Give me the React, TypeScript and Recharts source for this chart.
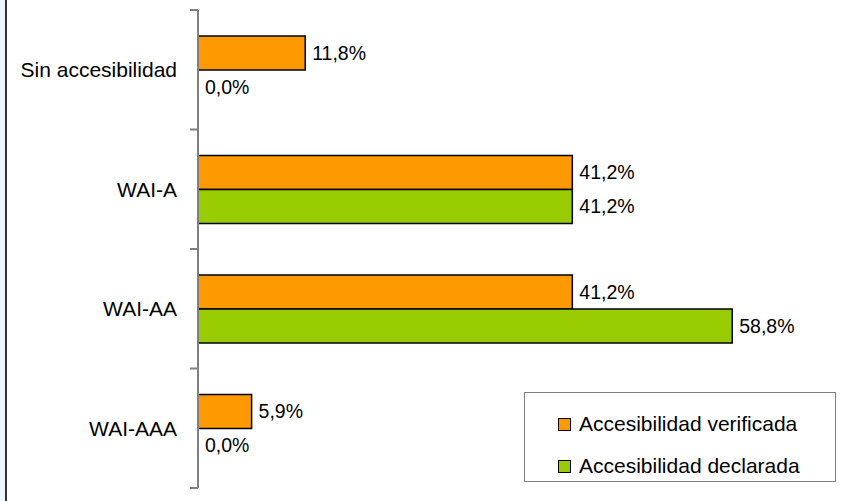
import React from "react";
import { BarChart, Bar, XAxis, YAxis, Legend, LabelList, Cell } from "recharts";

const categories = ["Sin accesibilidad", "WAI-A", "WAI-AA", "WAI-AAA"];
const verificada = [11.8, 41.2, 41.2, 5.9];
const declarada = [0, 41.2, 58.8, 0];
const seriesNames = ["Accesibilidad verificada", "Accesibilidad declarada"];
const seriesColors = ["#FF9900", "#99CC00"];

const data = categories.map((name, i) => ({
  name,
  verificada: verificada[i],
  declarada: declarada[i],
}));

const W = 842;
const H = 501;
const MARGIN = { top: 10, right: 8, bottom: 13, left: 0 };
const FONT = '"Liberation Sans", Arial, sans-serif';
const FS = 21;
const VFS = 19.5;
const band = (H - MARGIN.top - MARGIN.bottom) / categories.length;

const fmt = (v: any) => `${Number(v).toFixed(1).replace(".", ",")}%`;
const minSize = (v: any) => (Number(v) === 0 ? 0.01 : 0);

function CatTick(props: any) {
  const { x, y, payload, index } = props;
  return (
    <g>
      <line x1={x - 8} x2={x} y1={y - band / 2} y2={y - band / 2} stroke="#808080" strokeWidth={2} />
      {index === categories.length - 1 && (
        <line x1={x - 8} x2={x} y1={y + band / 2} y2={y + band / 2} stroke="#808080" strokeWidth={2} />
      )}
      <text x={x - 21} y={y} dy="0.35em" textAnchor="end" fill="#000" fontSize={FS} fontFamily={FONT}>
        {payload.value}
      </text>
    </g>
  );
}

function LegendBox() {
  return (
    <div
      style={{
        width: 312,
        height: 90,
        border: "1px solid #808080",
        background: "#fff",
        boxSizing: "border-box",
        fontFamily: FONT,
        fontSize: FS,
        color: "#000",
        paddingLeft: 33,
        paddingTop: 10,
        textAlign: "left",
      }}
    >
      {seriesNames.map((n, i) => (
        <div key={n} style={{ display: "flex", alignItems: "center", height: 42 }}>
          <span
            style={{
              display: "inline-block",
              width: 11,
              height: 11,
              background: seriesColors[i],
              border: "1.5px solid #000",
              marginRight: 8,
            }}
          />
          <span>{n}</span>
        </div>
      ))}
    </div>
  );
}

export default function App() {
  return (
    <div style={{ position: "absolute", left: 0, top: 0, width: W, height: H, background: "#fff" }}>
      <div style={{ position: "absolute", left: 0, top: 0, width: 5, height: H, background: "#eef5fc" }} />
      <div style={{ position: "absolute", left: 5, top: 0, width: 2, height: H, background: "#333" }} />
      <BarChart
        width={W}
        height={H}
        data={data}
        layout="vertical"
        margin={MARGIN}
        barGap={0}
        barSize={34}
      >
        <XAxis type="number" domain={[0, 70]} hide />
        <YAxis
          type="category"
          dataKey="name"
          width={198}
          axisLine={{ stroke: "#808080", strokeWidth: 2 }}
          tickLine={false}
          tickSize={0}
          tickMargin={0}
          tick={<CatTick />}
          interval={0}
        />
        <Legend
          layout="vertical"
          align="center"
          verticalAlign="middle"
          content={() => <LegendBox />}
          wrapperStyle={{ position: "absolute", left: 524, top: 392, width: 312, height: 90 }}
        />
        <Bar dataKey="verificada" name={seriesNames[0]} fill={seriesColors[0]} stroke="#000" strokeWidth={1.5} minPointSize={minSize} isAnimationActive={false}>
          {verificada.map((v, i) => (
            <Cell key={i} stroke={v === 0 ? "none" : "#000"} />
          ))}
          <LabelList dataKey="verificada" position="right" offset={7} formatter={fmt} fill="#000" fontSize={VFS} fontFamily={FONT} />
        </Bar>
        <Bar dataKey="declarada" name={seriesNames[1]} fill={seriesColors[1]} stroke="#000" strokeWidth={1.5} minPointSize={minSize} isAnimationActive={false}>
          {declarada.map((v, i) => (
            <Cell key={i} stroke={v === 0 ? "none" : "#000"} />
          ))}
          <LabelList dataKey="declarada" position="right" offset={7} formatter={fmt} fill="#000" fontSize={VFS} fontFamily={FONT} />
        </Bar>
      </BarChart>
    </div>
  );
}
